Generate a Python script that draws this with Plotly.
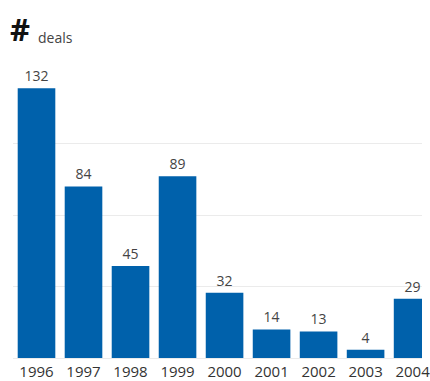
import plotly.graph_objects as go

years = ["1996", "1997", "1998", "1999", "2000", "2001", "2002", "2003", "2004"]
deals = [132, 84, 45, 89, 32, 14, 13, 4, 29]

W, H = 430, 381
L, R, T, B = 13, 0, 72, 23
plot_w = W - L - R
plot_h = H - T - B

fig = go.Figure(
    go.Bar(
        x=years,
        y=deals,
        marker=dict(color="#0061ab", line=dict(width=0)),
        text=[str(v) for v in deals],
        textposition="outside",
        textfont=dict(family="Open Sans", size=14, color="#444444"),
        cliponaxis=False,
    )
)

fig.update_layout(
    width=W,
    height=H,
    margin=dict(l=L, r=R, t=T, b=B, pad=0),
    paper_bgcolor="white",
    plot_bgcolor="white",
    bargap=0.2,
    showlegend=False,
    font=dict(family="Open Sans", color="#333333"),
)

fig.update_xaxes(
    type="category",
    range=[-0.5, 8.2],
    showgrid=False,
    showline=False,
    zeroline=False,
    ticks="",
    tickfont=dict(family="Open Sans", size=15, color="#333333"),
    ticklabelstandoff=3,
)

fig.update_yaxes(
    range=[0, 140],
    dtick=35,
    showticklabels=False,
    showgrid=True,
    gridcolor="#ebebeb",
    gridwidth=1,
    zeroline=True,
    zerolinecolor="#ebebeb",
    zerolinewidth=1,
    showline=False,
)

def px_x(p):
    return (p - L) / plot_w

def px_y(p):
    return (H - B - p) / plot_h

# heading: large "#" followed by the unit label
fig.add_annotation(
    text="<b>#</b>",
    xref="paper", yref="paper",
    x=px_x(8), y=px_y(52),
    xanchor="left", yanchor="bottom",
    showarrow=False,
    font=dict(family="Open Sans", size=31, color="#111111"),
)
fig.add_annotation(
    text="deals",
    xref="paper", yref="paper",
    x=px_x(36), y=px_y(49),
    xanchor="left", yanchor="bottom",
    showarrow=False,
    font=dict(family="Open Sans", size=14, color="#444444"),
)

fig.write_html("out.html")
